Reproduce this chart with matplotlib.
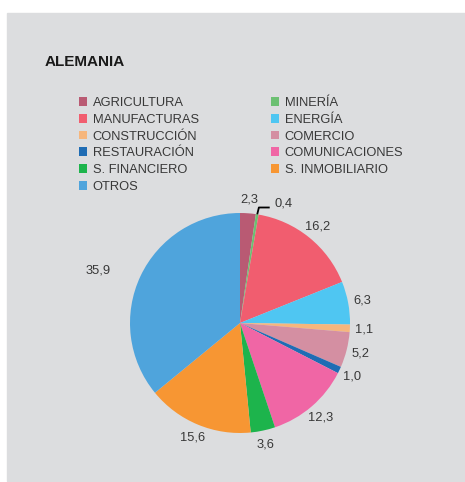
"""Pie chart: sector shares for Alemania."""

import matplotlib

matplotlib.use("Agg")
import matplotlib.pyplot as plt
import numpy as np
from matplotlib.patches import Patch, Rectangle

plt.rcParams["font.family"] = ["Liberation Sans", "DejaVu Sans"]

sectors = [
    "AGRICULTURA", "MINERÍA", "MANUFACTURAS", "ENERGÍA", "CONSTRUCCIÓN",
    "COMERCIO", "RESTAURACIÓN", "COMUNICACIONES", "S. FINANCIERO",
    "S. INMOBILIARIO", "OTROS",
]
shares = [2.3, 0.4, 16.2, 6.3, 1.1, 5.2, 1.0, 12.3, 3.6, 15.6, 35.9]
colors = [
    "#b95a73", "#6cc072", "#f15d6f", "#4fc6f2", "#f6b67d", "#d48fa2",
    "#1f6cb4", "#f066a5", "#1db44c", "#f79633", "#4fa4dc",
]

W, H = 465, 482
TEXT = "#383838"

fig = plt.figure(figsize=(W / 100, H / 100), dpi=100, facecolor="white")
fig.patches.append(Rectangle((7 / W, 1 / H), 458 / W, 468 / H,
                             transform=fig.transFigure, color="#dcdddf", zorder=-1))

fig.text(45 / W, 1 - 62 / H, "ALEMANIA", fontsize=11, fontweight="bold",
         color="#1a1a1a", va="center")

# pie: centre (240, 323) px, radius 110 px
ax = fig.add_axes([130 / W, (H - 323 - 110) / H, 220 / W, 220 / H])
wedges, _ = ax.pie(shares, colors=colors, startangle=90, counterclock=False,
                   radius=1.0, wedgeprops=dict(linewidth=0))
ax.set_xlim(-1, 1)
ax.set_ylim(-1, 1)
ax.set_aspect("equal")
ax.axis("off")

# (radius, angle tweak in degrees) for labels that sit off the default ring
label_adjust = {10: (1.38, 5)}
for i, w in enumerate(wedges):
    txt = f"{shares[i]:.1f}".replace(".", ",")
    ang = np.deg2rad((w.theta1 + w.theta2) / 2)
    if sectors[i] == "MINERÍA":
        ex, ey = np.cos(ang), np.sin(ang)
        ax.plot([ex, ex + 0.015, 0.27], [ey, 1.05, 1.05], color="black",
                lw=1.3, clip_on=False, solid_capstyle="butt")
        ax.text(0.31, 1.085, txt, fontsize=9.3, color=TEXT, ha="left", va="center")
        continue
    r, dang = label_adjust.get(i, (1.13, 0))
    ang += np.deg2rad(dang)
    ax.text(r * np.cos(ang), r * np.sin(ang), txt, fontsize=9.3, color=TEXT,
            ha="center", va="center")

# legend filled row by row like the original
handles = [Patch(facecolor=c, edgecolor="none") for c in colors]
order = [0, 2, 4, 6, 8, 10, 1, 3, 5, 7, 9]
fig.legend([handles[k] for k in order], [sectors[k] for k in order], ncol=2,
           loc="upper left", bbox_to_anchor=(79 / W, 1 - 97 / H), frameon=False,
           fontsize=9.3, handlelength=0.65, handleheight=0.65, handletextpad=0.4,
           labelspacing=0.37, columnspacing=5.6, borderpad=0, borderaxespad=0,
           labelcolor=TEXT)

fig.savefig("out.png", dpi=100, facecolor="white")
